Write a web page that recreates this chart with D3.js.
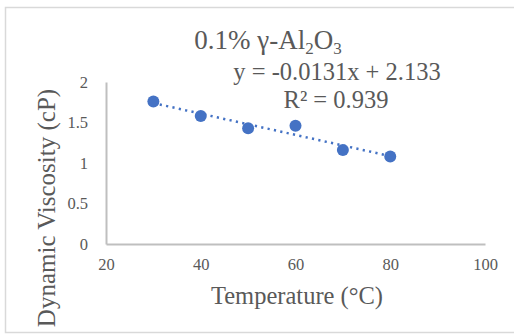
<!DOCTYPE html>
<html><head><meta charset="utf-8">
<script src="https://cdn.jsdelivr.net/npm/d3@7"></script>
<style>body{margin:0;background:#fff}svg{display:block}</style>
</head><body>
<script>
const temps = [30, 40, 50, 60, 70, 80];
const viscosity = [1.76, 1.58, 1.43, 1.46, 1.16, 1.08];
const xTicks = [20, 40, 60, 80, 100];
const yTicks = [0, 0.5, 1, 1.5, 2];
const trendSlope = -0.0131, trendIntercept = 2.133;
const trendX = [30, 80];
const titleMain = "0.1% γ-Al", sub1 = "2", mid = "O", sub2 = "3";
const eqText = "y = -0.0131x + 2.133";
const r2Text = "R² = 0.939";
const xTitle = "Temperature (°C)";
const yTitle = "Dynamic Viscosity (cP)";

const W = 514, H = 334;
const svg = d3.select("body").append("svg").attr("width", W).attr("height", H);
const font = "'Liberation Serif','Times New Roman',serif";
const grey = "#595959";

svg.append("rect").attr("x", 5.5).attr("y", 7.5).attr("width", 520).attr("height", 325)
  .attr("fill", "#fff").attr("stroke", "#d9d9d9").attr("stroke-width", 1.5);

const x = d3.scaleLinear().domain([20, 100]).range([106, 485]);
const y = d3.scaleLinear().domain([0, 2]).range([244, 82]);

// axes
const xAx = svg.append("g").attr("transform", "translate(0,244)")
  .call(d3.axisBottom(x).tickValues(xTicks).tickSize(0).tickPadding(14));
const yAx = svg.append("g").attr("transform", "translate(106,0)")
  .call(d3.axisLeft(y).tickValues(yTicks).tickSize(0).tickPadding(18).tickFormat(d3.format("")));
[xAx, yAx].forEach(g => {
  g.select(".domain").attr("stroke", "#bfbfbf").attr("stroke-width", 2);
  g.selectAll("text").attr("fill", grey).style("font-family", font).style("font-size", "16.5px");
});

// trendline
svg.append("line")
  .attr("x1", x(trendX[0])).attr("y1", y(trendSlope * trendX[0] + trendIntercept))
  .attr("x2", x(trendX[1])).attr("y2", y(trendSlope * trendX[1] + trendIntercept))
  .attr("stroke", "#4472C4").attr("stroke-width", 2.5)
  .attr("stroke-dasharray", "2.2,4.3");

// points
svg.selectAll("circle.pt").data(temps).enter().append("circle")
  .attr("class", "pt")
  .attr("cx", d => x(d)).attr("cy", (d, i) => y(viscosity[i]))
  .attr("r", 6).attr("fill", "#4472C4");

// title
const t = svg.append("text").attr("x", 268).attr("y", 49).attr("text-anchor", "middle")
  .attr("fill", grey).style("font-family", font).style("font-size", "27px");
t.append("tspan").text(titleMain);
t.append("tspan").attr("dy", 5).style("font-size", "17px").text(sub1);
t.append("tspan").attr("dy", -5).text(mid);
t.append("tspan").attr("dy", 5).style("font-size", "17px").text(sub2);

// equation
svg.append("text").attr("x", 337).attr("y", 80).attr("text-anchor", "middle")
  .attr("fill", grey).style("font-family", font).style("font-size", "24.5px").text(eqText);
svg.append("text").attr("x", 336).attr("y", 108).attr("text-anchor", "middle")
  .attr("fill", grey).style("font-family", font).style("font-size", "24.5px").text(r2Text);

// axis titles
svg.append("text").attr("x", 297).attr("y", 304).attr("text-anchor", "middle")
  .attr("fill", grey).style("font-family", font).style("font-size", "24.5px").text(xTitle);
svg.append("text").attr("transform", "translate(55,208) rotate(-90)").attr("text-anchor", "middle")
  .attr("fill", grey).style("font-family", font).style("font-size", "25px").text(yTitle);
</script>
</body></html>
